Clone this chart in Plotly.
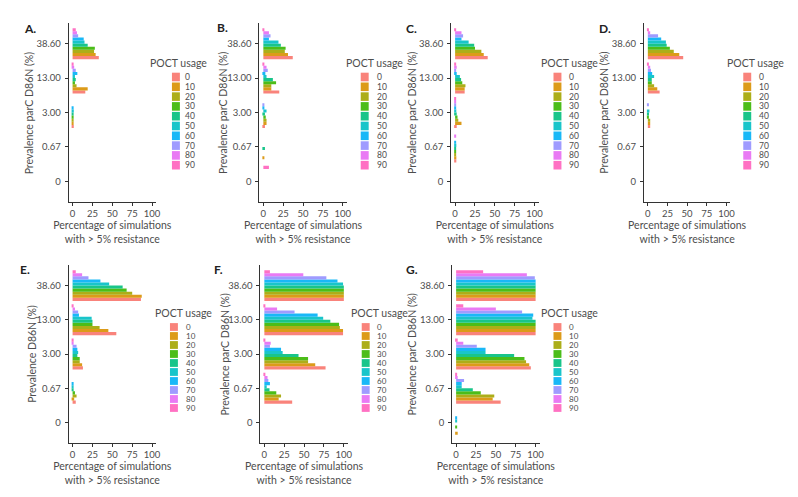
import plotly.graph_objects as go

# ---------------- data ----------------
prevalence = ["0", "0.67", "3.00", "13.00", "38.60"]          # bottom -> top
poct_usage = ["0", "10", "20", "30", "40", "50", "60", "70", "80", "90"]
colors = ["#F8766D", "#D89000", "#A3A500", "#39B600", "#00BF7D",
          "#00BFC4", "#00B0F6", "#9590FF", "#E76BF3", "#FF62BC"]
x_ticks = [0, 25, 50, 75, 100]

# each row: one POCT usage level, values at prevalence [0, 0.67, 3.00, 13.00, 38.60]
panel_A = [[0, 0, 1.5, 16, 33], [0, 0, 0.5, 19, 29], [0, 0, 1, 5, 27], [0, 0, 1, 3, 28],
           [0, 0, 1, 4, 19], [0, 0, 1.5, 3, 15], [0, 0, 1, 6, 14], [0, 0, 0, 4, 7],
           [0, 0, 0, 2, 5.5], [0, 0, 0, 1, 4]]
panel_B = [[0, 0, 2, 20, 37], [0, 1, 4, 10, 31], [0, 0, 4, 10, 27], [0, 0, 3, 16, 28],
           [0, 2, 2, 12, 22], [0, 0, 4, 4, 19], [0, 0, 1, 2.5, 7], [0, 0, 1, 5.5, 9],
           [0, 0, 0, 4, 7], [7, 0, 0, 1, 1]]
panel_C = [[0, 1.5, 2, 12, 41], [0, 1.5, 8, 12, 36], [0, 1, 4, 13, 33], [0, 0.5, 3, 9, 25],
           [0, 1, 2, 7.5, 24], [0, 1.5, 1.5, 6, 17], [0, 1, 1, 2, 8], [0, 0, 1, 1, 10],
           [0, 1, 0.5, 2, 8], [0, 0, 0.5, 1, 1]]
panel_D = [[0, 0, 3, 15, 45], [0, 0, 3, 12, 40], [0, 0, 3, 8, 33], [0, 0, 1, 5, 28],
           [0, 0, 1.5, 5, 24], [0, 0, 2, 8, 23], [0, 0, 0, 5.5, 17], [0, 0, 1, 4, 13],
           [0, 0, 0, 3, 3], [0, 0, 0, 1, 1]]
panel_E = [[0, 4, 13, 55, 86], [0, 2, 12, 45, 87], [0, 5, 9, 34, 75], [0, 3, 9, 25, 68],
           [0, 1, 6, 25, 63], [0, 1, 7, 24, 46], [0, 1, 6, 8, 35], [0, 0, 5, 7, 20],
           [0, 0, 1, 3, 12], [0, 0, 1, 1, 4]]
panel_F = [[0, 35, 77, 99, 100], [0, 18, 64, 99, 100], [0, 21, 55, 95, 100], [0, 15, 55, 94, 100],
           [0, 6.5, 43, 83, 100], [0, 3, 23, 74, 99], [0, 7, 21, 67, 92], [0, 5, 7, 38, 78],
           [0, 4, 8, 16, 49], [0, 1, 1, 1, 7]]
panel_G = [[0, 56, 94, 100, 100], [2, 46, 92, 100, 100], [0, 48, 88, 100, 100], [0.5, 31, 86, 100, 100],
           [0, 21, 73, 100, 100], [1, 7, 37, 96, 100], [1, 7, 37, 97, 100], [0, 10, 26, 83, 99],
           [0, 2, 9, 50, 89], [0, 1, 2, 9, 34]]

panel_labels = ["A.", "B.", "C.", "D.", "E.", "F.", "G."]
y_titles = ["Prevalence parC D86N (%)"] * 4 + ["Prevalence D86N (%)"] + ["Prevalence parC D86N (%)"] * 2
x_title = "Percentage of simulations<br>with > 5% resistance"
legend_title = "POCT usage"

# ---------------- layout geometry (page pixels) ----------------
OFF = 8                       # default body margin of the html page
W, H = 798 - 2 * OFF, 497 - 2 * OFF
FONT = "Lato"
TXT = "#4d4d4d"
panels = [panel_A, panel_B, panel_C, panel_D, panel_E, panel_F, panel_G]
x_ext = [(69, 157), (261, 349), (454, 542), (648, 735), (69, 157), (262, 350), (455, 543)]
rows = [0, 0, 0, 0, 1, 1, 1]
y_ext = {0: (23, 202), 1: (265, 443)}
ytitle_x = [30, 225, 415, 608, 32, 226, 415]
label_pos = [(22, 29), (216, 27), (407, 28), (601, 28), (18, 269), (213, 269), (407, 269)]
legend_x = [(150, 173, 185), (347, 363, 378), (543, 557, 572), (731, 748, 763),
            (155, 171, 186), (352, 364, 378), (543, 557, 572)]
legend_y = {0: (63, 77, 9.8, 8.5), 1: (313, 327, 9.0, 8.0)}


def px(x):
    return (x - OFF) / W


def py(y):
    return 1 - (y - OFF) / H


fig = go.Figure()
layout = dict(width=W, height=H, margin=dict(l=0, r=0, t=0, b=0),
              paper_bgcolor="white", plot_bgcolor="white",
              barmode="group", bargap=0.1, bargroupgap=0.0, showlegend=False,
              font=dict(family=FONT, size=10, color=TXT))
annotations = []
shapes = []

for p, data in enumerate(panels):
    ax = "" if p == 0 else str(p + 1)
    for k, lvl in enumerate(poct_usage):
        fig.add_trace(go.Bar(
            x=data[k], y=prevalence, orientation="h", name=lvl,
            marker=dict(color=colors[k], opacity=0.9, line=dict(width=0)),
            xaxis="x" + ax, yaxis="y" + ax, showlegend=False))
    x0, x1 = x_ext[p]
    r = rows[p]
    yt, yb = y_ext[r]
    layout["xaxis" + ax] = dict(
        domain=[px(x0), px(x1)], anchor="y" + ax, range=[-5, 105],
        tickvals=x_ticks, ticktext=[str(v) for v in x_ticks],
        showline=True, linecolor="#333333", linewidth=1, ticks="outside",
        ticklen=3, tickcolor="#333333", showgrid=False, zeroline=False,
        tickfont=dict(size=9.5, color=TXT),
        title=dict(text=x_title, font=dict(size=10.5, color=TXT), standoff=3))
    layout["yaxis" + ax] = dict(
        domain=[py(yb), py(yt)], anchor="x" + ax, type="category",
        categoryorder="array", categoryarray=prevalence, range=[-0.6, 4.6],
        showline=True, linecolor="#333333", linewidth=1, ticks="outside",
        ticklen=3, tickcolor="#333333", showgrid=False, zeroline=False,
        tickfont=dict(size=9.5, color=TXT), ticklabelstandoff=2)
    annotations.append(dict(text=y_titles[p], x=px(ytitle_x[p]), y=py((yt + yb) / 2),
                            xref="paper", yref="paper", xanchor="center", yanchor="middle",
                            textangle=-90, showarrow=False, borderpad=0,
                            font=dict(size=10.5, color=TXT)))
    lx, ly = label_pos[p]
    annotations.append(dict(text="<b>" + panel_labels[p] + "</b>", x=px(lx), y=py(ly),
                            xref="paper", yref="paper", xanchor="left", yanchor="middle",
                            showarrow=False, font=dict(size=12, color="#222222")))
    # legend
    tx, sx, lbx = legend_x[p]
    ty, y0, dy, fs = legend_y[r]
    annotations.append(dict(text=legend_title, x=px(tx), y=py(ty), xref="paper", yref="paper",
                            xanchor="left", yanchor="middle", showarrow=False, borderpad=0,
                            font=dict(size=10.5, color=TXT)))
    for k, lvl in enumerate(poct_usage):
        cy = y0 + k * dy
        shapes.append(dict(type="rect", xref="paper", yref="paper",
                           x0=px(sx), x1=px(sx + 8),
                           y0=py(cy + dy / 2 - 0.6), y1=py(cy - dy / 2 + 0.6),
                           fillcolor=colors[k], opacity=0.9, line=dict(width=0)))
        annotations.append(dict(text=lvl, x=px(lbx), y=py(cy), xref="paper", yref="paper",
                                xanchor="left", yanchor="middle", showarrow=False, borderpad=0,
                                font=dict(size=fs, color=TXT)))

layout["annotations"] = annotations
layout["shapes"] = shapes
fig.update_layout(**layout)
fig.write_html("out.html")
